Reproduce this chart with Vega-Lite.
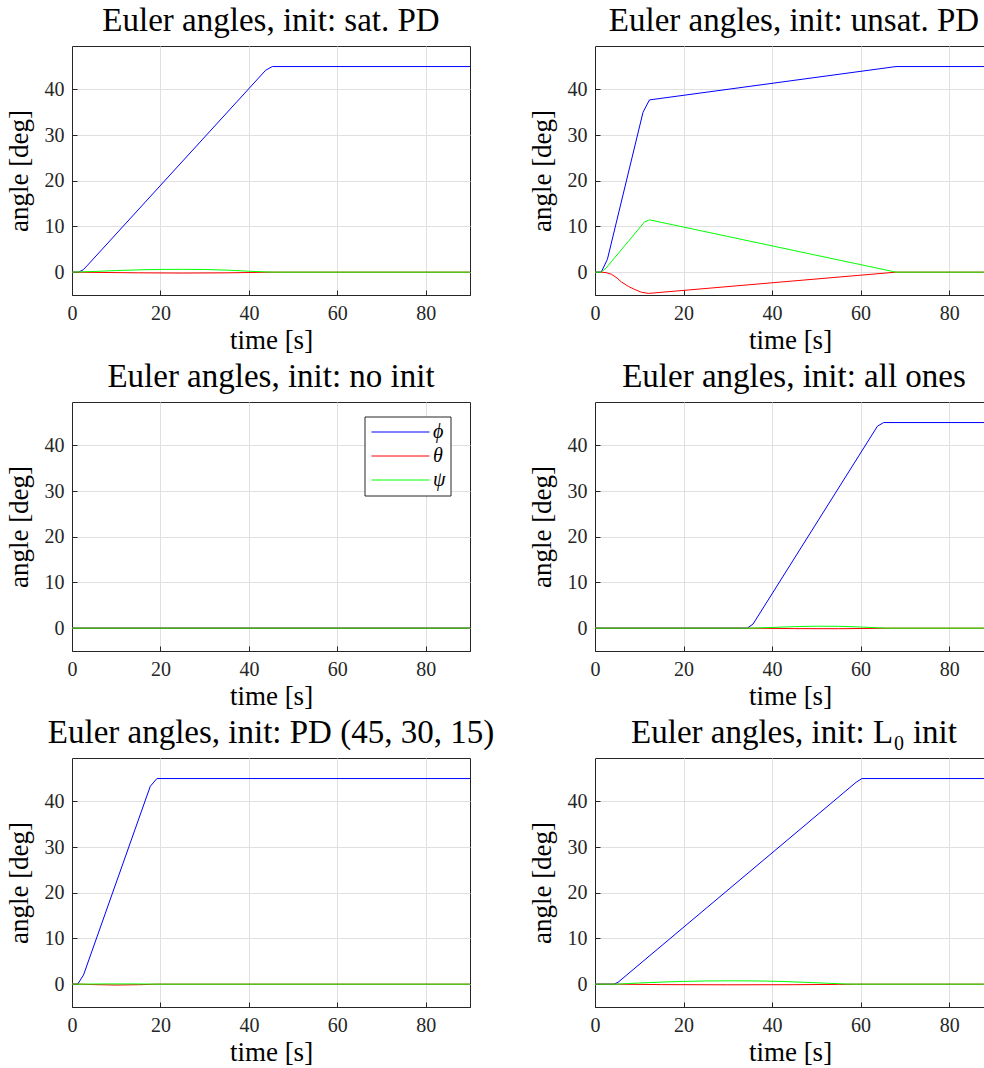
{
  "$schema": "https://vega.github.io/schema/vega-lite/v6.json",
  "padding": {"left": 4, "top": 4, "right": 0, "bottom": 0},
  "autosize": {"type": "pad"},
  "background": "white",
  "bounds": "flush",
  "columns": 2,
  "spacing": {"row": 107, "column": 125},
  "resolve": {"scale": {"color": "independent", "x": "independent", "y": "independent"}},
  "config": {
    "view": {"stroke": "#262626", "strokeWidth": 1},
    "title": {"font": "Liberation Serif", "fontSize": 33, "fontWeight": "normal", "color": "black", "offset": 8},
    "axis": {
      "labelFont": "Liberation Serif", "labelFontSize": 20, "labelColor": "#262626",
      "titleFont": "Liberation Serif", "titleFontSize": 27, "titleFontWeight": "normal", "titleColor": "black",
      "gridColor": "#e0e0e0", "gridWidth": 1, "domainColor": "#262626", "tickColor": "#262626",
      "tickSize": -5, "labelPadding": 13, "labelFlush": false
    },
    "axisX": {"titlePadding": 4},
    "axisY": {"titlePadding": 11},
    "line": {"strokeWidth": 1, "clip": true}
  },
  "datasets": {
    "d": [
      {"p":"A","s":"ϕ","t":0,"v":0},{"p":"A","s":"ϕ","t":1.5,"v":0},{"p":"A","s":"ϕ","t":2.5,"v":0.5},{"p":"A","s":"ϕ","t":3.5,"v":1.5},{"p":"A","s":"ϕ","t":43.8,"v":44.2},{"p":"A","s":"ϕ","t":45.3,"v":45},{"p":"A","s":"ϕ","t":90,"v":45},
      {"p":"A","s":"θ","t":0,"v":0},{"p":"A","s":"θ","t":5,"v":-0.05},{"p":"A","s":"θ","t":15,"v":-0.15},{"p":"A","s":"θ","t":25,"v":-0.2},{"p":"A","s":"θ","t":35,"v":-0.15},{"p":"A","s":"θ","t":42,"v":-0.05},{"p":"A","s":"θ","t":45,"v":0},{"p":"A","s":"θ","t":90,"v":0},
      {"p":"A","s":"ψ","t":0,"v":0},{"p":"A","s":"ψ","t":5,"v":0.15},{"p":"A","s":"ψ","t":10,"v":0.35},{"p":"A","s":"ψ","t":15,"v":0.5},{"p":"A","s":"ψ","t":20,"v":0.6},{"p":"A","s":"ψ","t":25,"v":0.62},{"p":"A","s":"ψ","t":30,"v":0.58},{"p":"A","s":"ψ","t":35,"v":0.45},{"p":"A","s":"ψ","t":40,"v":0.2},{"p":"A","s":"ψ","t":44,"v":0.05},{"p":"A","s":"ψ","t":46,"v":0},{"p":"A","s":"ψ","t":90,"v":0},

      {"p":"B","s":"ϕ","t":0,"v":0},{"p":"B","s":"ϕ","t":1.4,"v":0},{"p":"B","s":"ϕ","t":2.8,"v":2.8},{"p":"B","s":"ϕ","t":10.85,"v":35},{"p":"B","s":"ϕ","t":12.3,"v":37.7},{"p":"B","s":"ϕ","t":68,"v":45},{"p":"B","s":"ϕ","t":90,"v":45},
      {"p":"B","s":"θ","t":0,"v":0},{"p":"B","s":"θ","t":1.4,"v":0},{"p":"B","s":"θ","t":2.5,"v":-0.1},{"p":"B","s":"θ","t":3.7,"v":-0.45},{"p":"B","s":"θ","t":5,"v":-1.3},{"p":"B","s":"θ","t":5.9,"v":-2.1},{"p":"B","s":"θ","t":7.5,"v":-3.1},{"p":"B","s":"θ","t":9,"v":-3.8},{"p":"B","s":"θ","t":10.5,"v":-4.4},{"p":"B","s":"θ","t":12.1,"v":-4.65},{"p":"B","s":"θ","t":68,"v":0},{"p":"B","s":"θ","t":90,"v":0},
      {"p":"B","s":"ψ","t":0,"v":0},{"p":"B","s":"ψ","t":1.4,"v":0},{"p":"B","s":"ψ","t":2.5,"v":0.9},{"p":"B","s":"ψ","t":11.2,"v":11},{"p":"B","s":"ψ","t":12.3,"v":11.45},{"p":"B","s":"ψ","t":68,"v":0},{"p":"B","s":"ψ","t":90,"v":0},

      {"p":"C","s":"ϕ","t":0,"v":0},{"p":"C","s":"ϕ","t":90,"v":0},
      {"p":"C","s":"θ","t":0,"v":0},{"p":"C","s":"θ","t":90,"v":0},
      {"p":"C","s":"ψ","t":0,"v":0},{"p":"C","s":"ψ","t":90,"v":0},

      {"p":"D","s":"ϕ","t":0,"v":0},{"p":"D","s":"ϕ","t":34.4,"v":0},{"p":"D","s":"ϕ","t":35.7,"v":0.9},{"p":"D","s":"ϕ","t":63.8,"v":44.2},{"p":"D","s":"ϕ","t":65.2,"v":45},{"p":"D","s":"ϕ","t":90,"v":45},
      {"p":"D","s":"θ","t":0,"v":0},{"p":"D","s":"θ","t":35,"v":0},{"p":"D","s":"θ","t":45,"v":-0.1},{"p":"D","s":"θ","t":55,"v":-0.12},{"p":"D","s":"θ","t":63,"v":-0.05},{"p":"D","s":"θ","t":66,"v":0},{"p":"D","s":"θ","t":90,"v":0},
      {"p":"D","s":"ψ","t":0,"v":0},{"p":"D","s":"ψ","t":35,"v":0},{"p":"D","s":"ψ","t":40,"v":0.15},{"p":"D","s":"ψ","t":45,"v":0.33},{"p":"D","s":"ψ","t":50,"v":0.43},{"p":"D","s":"ψ","t":55,"v":0.4},{"p":"D","s":"ψ","t":60,"v":0.25},{"p":"D","s":"ψ","t":64,"v":0.08},{"p":"D","s":"ψ","t":66,"v":0},{"p":"D","s":"ψ","t":90,"v":0},

      {"p":"E","s":"ϕ","t":0,"v":0},{"p":"E","s":"ϕ","t":1.3,"v":0},{"p":"E","s":"ϕ","t":2.6,"v":2},{"p":"E","s":"ϕ","t":17.7,"v":43.3},{"p":"E","s":"ϕ","t":19.2,"v":45},{"p":"E","s":"ϕ","t":90,"v":45},
      {"p":"E","s":"θ","t":0,"v":0},{"p":"E","s":"θ","t":2,"v":0},{"p":"E","s":"θ","t":5,"v":-0.1},{"p":"E","s":"θ","t":10,"v":-0.2},{"p":"E","s":"θ","t":15,"v":-0.12},{"p":"E","s":"θ","t":19,"v":0},{"p":"E","s":"θ","t":90,"v":0},
      {"p":"E","s":"ψ","t":0,"v":0},{"p":"E","s":"ψ","t":2,"v":0},{"p":"E","s":"ψ","t":8,"v":0.05},{"p":"E","s":"ψ","t":14,"v":0.05},{"p":"E","s":"ψ","t":19,"v":0},{"p":"E","s":"ψ","t":90,"v":0},

      {"p":"F","s":"ϕ","t":0,"v":0},{"p":"F","s":"ϕ","t":4.3,"v":0},{"p":"F","s":"ϕ","t":5.2,"v":0.4},{"p":"F","s":"ϕ","t":59,"v":44.2},{"p":"F","s":"ϕ","t":60.3,"v":45},{"p":"F","s":"ϕ","t":90,"v":45},
      {"p":"F","s":"θ","t":0,"v":0},{"p":"F","s":"θ","t":5,"v":0},{"p":"F","s":"θ","t":15,"v":-0.1},{"p":"F","s":"θ","t":30,"v":-0.15},{"p":"F","s":"θ","t":45,"v":-0.12},{"p":"F","s":"θ","t":55,"v":-0.05},{"p":"F","s":"θ","t":59,"v":0},{"p":"F","s":"θ","t":90,"v":0},
      {"p":"F","s":"ψ","t":0,"v":0},{"p":"F","s":"ψ","t":5,"v":0},{"p":"F","s":"ψ","t":10,"v":0.25},{"p":"F","s":"ψ","t":15,"v":0.45},{"p":"F","s":"ψ","t":20,"v":0.6},{"p":"F","s":"ψ","t":25,"v":0.7},{"p":"F","s":"ψ","t":31,"v":0.73},{"p":"F","s":"ψ","t":37,"v":0.7},{"p":"F","s":"ψ","t":42,"v":0.6},{"p":"F","s":"ψ","t":47,"v":0.42},{"p":"F","s":"ψ","t":52,"v":0.22},{"p":"F","s":"ψ","t":56,"v":0.06},{"p":"F","s":"ψ","t":58,"v":0},{"p":"F","s":"ψ","t":90,"v":0}
    ]
  },
  "concat": [
    {
      "width": 398, "height": 249,
      "title": "Euler angles, init: sat. PD",
      "data": {"name": "d"},
      "transform": [{"filter": "datum.p == 'A'"}],
      "mark": {"type": "line"},
      "encoding": {
        "x": {"field": "t", "type": "quantitative", "scale": {"domain": [0, 90], "nice": false, "zero": false}, "axis": {"values": [0, 20, 40, 60, 80], "title": "time [s]"}},
        "y": {"field": "v", "type": "quantitative", "scale": {"domain": [-5, 49.5], "nice": false, "zero": false}, "axis": {"values": [0, 10, 20, 30, 40], "title": "angle [deg]"}},
        "color": {"field": "s", "type": "nominal", "scale": {"domain": ["ϕ", "θ", "ψ"], "range": ["#0000ff", "#ff0000", "#00ff00"]}, "legend": null}
      }
    },
    {
      "width": 390, "height": 249,
      "title": {"text": "Euler angles, init: unsat. PD", "dx": 4},
      "data": {"name": "d"},
      "transform": [{"filter": "datum.p == 'B'"}],
      "mark": {"type": "line"},
      "encoding": {
        "x": {"field": "t", "type": "quantitative", "scale": {"domain": [0, 88.1], "nice": false, "zero": false}, "axis": {"values": [0, 20, 40, 60, 80], "title": "time [s]"}},
        "y": {"field": "v", "type": "quantitative", "scale": {"domain": [-5, 49.5], "nice": false, "zero": false}, "axis": {"values": [0, 10, 20, 30, 40], "title": "angle [deg]"}},
        "color": {"field": "s", "type": "nominal", "scale": {"domain": ["ϕ", "θ", "ψ"], "range": ["#0000ff", "#ff0000", "#00ff00"]}, "legend": null}
      }
    },
    {
      "width": 398, "height": 249,
      "title": "Euler angles, init: no init",
      "data": {"name": "d"},
      "transform": [{"filter": "datum.p == 'C'"}],
      "mark": {"type": "line"},
      "encoding": {
        "x": {"field": "t", "type": "quantitative", "scale": {"domain": [0, 90], "nice": false, "zero": false}, "axis": {"values": [0, 20, 40, 60, 80], "title": "time [s]"}},
        "y": {"field": "v", "type": "quantitative", "scale": {"domain": [-5, 49.5], "nice": false, "zero": false}, "axis": {"values": [0, 10, 20, 30, 40], "title": "angle [deg]"}},
        "color": {"field": "s", "type": "nominal", "scale": {"domain": ["ϕ", "θ", "ψ"], "range": ["#0000ff", "#ff0000", "#00ff00"]},
          "legend": {"orient": "none", "legendX": 292.5, "legendY": 14.5, "title": null, "symbolType": "M-3,0H3", "symbolSize": 374, "symbolStrokeWidth": 1, "symbolOffset": 20.5, "labelOffset": 22, "labelFont": "Liberation Serif", "labelFontStyle": "italic", "labelFontSize": 20, "labelColor": "black", "rowPadding": 3, "padding": 5, "strokeColor": "#262626", "fillColor": "white", "cornerRadius": 0}}
      }
    },
    {
      "width": 390, "height": 249,
      "title": {"text": "Euler angles, init: all ones", "dx": 4},
      "data": {"name": "d"},
      "transform": [{"filter": "datum.p == 'D'"}],
      "mark": {"type": "line"},
      "encoding": {
        "x": {"field": "t", "type": "quantitative", "scale": {"domain": [0, 88.1], "nice": false, "zero": false}, "axis": {"values": [0, 20, 40, 60, 80], "title": "time [s]"}},
        "y": {"field": "v", "type": "quantitative", "scale": {"domain": [-5, 49.5], "nice": false, "zero": false}, "axis": {"values": [0, 10, 20, 30, 40], "title": "angle [deg]"}},
        "color": {"field": "s", "type": "nominal", "scale": {"domain": ["ϕ", "θ", "ψ"], "range": ["#0000ff", "#ff0000", "#00ff00"]}, "legend": null}
      }
    },
    {
      "width": 398, "height": 249,
      "title": "Euler angles, init: PD (45, 30, 15)",
      "data": {"name": "d"},
      "transform": [{"filter": "datum.p == 'E'"}],
      "mark": {"type": "line"},
      "encoding": {
        "x": {"field": "t", "type": "quantitative", "scale": {"domain": [0, 90], "nice": false, "zero": false}, "axis": {"values": [0, 20, 40, 60, 80], "title": "time [s]"}},
        "y": {"field": "v", "type": "quantitative", "scale": {"domain": [-5, 49.5], "nice": false, "zero": false}, "axis": {"values": [0, 10, 20, 30, 40], "title": "angle [deg]"}},
        "color": {"field": "s", "type": "nominal", "scale": {"domain": ["ϕ", "θ", "ψ"], "range": ["#0000ff", "#ff0000", "#00ff00"]}, "legend": null}
      }
    },
    {
      "width": 390, "height": 249,
      "title": {"text": "Euler angles, init: L₀ init", "dx": 4},
      "data": {"name": "d"},
      "transform": [{"filter": "datum.p == 'F'"}],
      "mark": {"type": "line"},
      "encoding": {
        "x": {"field": "t", "type": "quantitative", "scale": {"domain": [0, 88.1], "nice": false, "zero": false}, "axis": {"values": [0, 20, 40, 60, 80], "title": "time [s]"}},
        "y": {"field": "v", "type": "quantitative", "scale": {"domain": [-5, 49.5], "nice": false, "zero": false}, "axis": {"values": [0, 10, 20, 30, 40], "title": "angle [deg]"}},
        "color": {"field": "s", "type": "nominal", "scale": {"domain": ["ϕ", "θ", "ψ"], "range": ["#0000ff", "#ff0000", "#00ff00"]}, "legend": null}
      }
    }
  ]
}
